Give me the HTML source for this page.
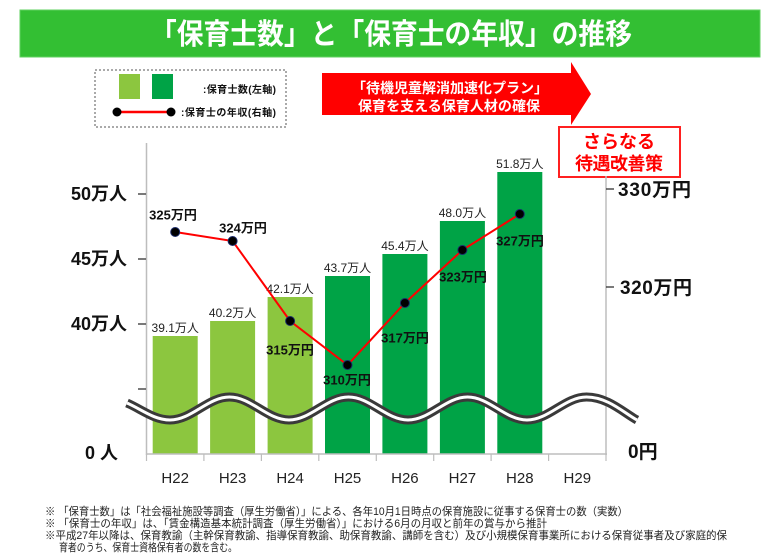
<!DOCTYPE html>
<html><head><meta charset="utf-8">
<style>
html,body{margin:0;padding:0;background:#fff;}
svg{display:block;}
text{font-family:"Liberation Sans","Noto Sans CJK JP",sans-serif;}
</style></head>
<body>
<svg width="780" height="560" viewBox="0 0 780 560" xmlns="http://www.w3.org/2000/svg">
<!-- Title -->
<rect x="20" y="10" width="740" height="47" fill="#33bf33" stroke="#5fd05f" stroke-width="1"/>
<text x="391" y="44" font-size="29" font-weight="bold" fill="#fff" text-anchor="middle" textLength="482" lengthAdjust="spacingAndGlyphs">「保育士数」と「保育士の年収」の推移</text>

<!-- Legend -->
<rect x="95" y="70" width="191" height="57" fill="none" stroke="#555" stroke-width="1" stroke-dasharray="2,2"/>
<rect x="119" y="74" width="21" height="25" fill="#8cc63f"/>
<rect x="152" y="74" width="21" height="25" fill="#00a346"/>
<text x="203" y="93" font-size="10" font-weight="bold" fill="#111" textLength="73">:保育士数(左軸)</text>
<line x1="117" y1="112" x2="171" y2="112" stroke="#ff0000" stroke-width="2.5"/>
<circle cx="117" cy="112" r="4.5" fill="#000"/>
<circle cx="171" cy="112" r="4.5" fill="#000"/>
<text x="181" y="116" font-size="10" font-weight="bold" fill="#111" textLength="95">:保育士の年収(右軸)</text>

<!-- Red arrow -->
<polygon points="322,73 571,73 571,62 591,94 571,125 571,115 322,115" fill="#ff0000"/>
<text x="450" y="93" font-size="14" font-weight="bold" fill="#fff" text-anchor="middle" textLength="196">「待機児童解消加速化プラン」</text>
<text x="449" y="111" font-size="14" font-weight="bold" fill="#fff" text-anchor="middle" textLength="182">保育を支える保育人材の確保</text>

<!-- Red box -->
<rect x="559" y="127" width="121" height="50" fill="#fff" stroke="#ff2020" stroke-width="2"/>
<text x="619" y="148" font-size="18" font-weight="bold" fill="#ff0000" text-anchor="middle">さらなる</text>
<text x="619" y="170" font-size="18" font-weight="bold" fill="#ff0000" text-anchor="middle" textLength="88">待遇改善策</text>

<!-- Bars -->
<g>
<rect x="152.7" y="336" width="45" height="118" fill="#8cc63f"/>
<rect x="210.1" y="321" width="45" height="133" fill="#8cc63f"/>
<rect x="267.6" y="297" width="45" height="157" fill="#8cc63f"/>
<rect x="325.0" y="276" width="45" height="178" fill="#00a346"/>
<rect x="382.4" y="254" width="45" height="200" fill="#00a346"/>
<rect x="439.9" y="221" width="45" height="233" fill="#00a346"/>
<rect x="497.3" y="172" width="45" height="282" fill="#00a346"/>
</g>

<!-- Axes -->
<line x1="146.5" y1="143" x2="146.5" y2="455" stroke="#bdbdbd" stroke-width="1.5"/>
<line x1="606" y1="176" x2="606" y2="455" stroke="#bdbdbd" stroke-width="1.5"/>
<line x1="146" y1="454" x2="607" y2="454" stroke="#bdbdbd" stroke-width="1.5"/>
<g stroke="#bdbdbd" stroke-width="1.2">
<line x1="146.5" y1="454" x2="146.5" y2="461"/>
<line x1="203.9" y1="454" x2="203.9" y2="461"/>
<line x1="261.4" y1="454" x2="261.4" y2="461"/>
<line x1="318.8" y1="454" x2="318.8" y2="461"/>
<line x1="376.3" y1="454" x2="376.3" y2="461"/>
<line x1="433.7" y1="454" x2="433.7" y2="461"/>
<line x1="491.1" y1="454" x2="491.1" y2="461"/>
<line x1="548.6" y1="454" x2="548.6" y2="461"/>
<line x1="606" y1="454" x2="606" y2="461"/>
</g>
<g stroke="#333" stroke-width="1.3">
<line x1="138" y1="194" x2="146" y2="194"/>
<line x1="138" y1="259" x2="146" y2="259"/>
<line x1="138" y1="324" x2="146" y2="324"/>
<line x1="138" y1="389" x2="146" y2="389"/>
<line x1="606" y1="189" x2="614" y2="189"/>
<line x1="606" y1="287" x2="614" y2="287"/>
</g>

<!-- Left labels -->
<g font-size="18" font-weight="bold" fill="#111" text-anchor="end">
<text x="127" y="200">50万人</text>
<text x="127" y="265">45万人</text>
<text x="127" y="330">40万人</text>
</g>
<text x="85" y="459" font-size="18" font-weight="bold" fill="#111">0 人</text>
<!-- Right labels -->
<g font-size="19" font-weight="bold" fill="#111">
<text x="618" y="196" textLength="73">330万円</text>
<text x="620" y="294" textLength="72">320万円</text>
<text x="628" y="458">0円</text>
</g>

<!-- Category labels -->
<g font-size="15" fill="#222" text-anchor="middle">
<text x="175.2" y="483">H22</text>
<text x="232.6" y="483">H23</text>
<text x="290.1" y="483">H24</text>
<text x="347.5" y="483">H25</text>
<text x="404.9" y="483">H26</text>
<text x="462.4" y="483">H27</text>
<text x="519.8" y="483">H28</text>
<text x="577.3" y="483">H29</text>
</g>

<!-- Bar value labels -->
<g font-size="12" fill="#222" text-anchor="middle">
<text x="175.2" y="332">39.1万人</text>
<text x="232.6" y="317">40.2万人</text>
<text x="290.1" y="293">42.1万人</text>
<text x="347.5" y="272">43.7万人</text>
<text x="404.9" y="250">45.4万人</text>
<text x="462.4" y="217">48.0万人</text>
<text x="519.8" y="168">51.8万人</text>
</g>

<!-- Wave break -->
<path d="M127,403 C141,409 154,420 170,420 C191.7,420 207.8,397 229.5,397 S267.3,420 289,420 S326.8,397 348.5,397 S386.3,420 408,420 S445.8,397 467.5,397 S505.3,420 527,420 S564.8,397 586.5,397 C608,397 624,413 637,420" fill="none" stroke="#3a3a3a" stroke-width="9"/>
<path d="M127,403 C141,409 154,420 170,420 C191.7,420 207.8,397 229.5,397 S267.3,420 289,420 S326.8,397 348.5,397 S386.3,420 408,420 S445.8,397 467.5,397 S505.3,420 527,420 S564.8,397 586.5,397 C608,397 624,413 637,420" fill="none" stroke="#fff" stroke-width="3"/>

<!-- Salary line -->
<polyline points="175.2,232 232.6,241 290.1,321 347.5,365 404.9,303 462.4,250 519.8,214" fill="none" stroke="#ff0000" stroke-width="2"/>
<g fill="#000" stroke="#1a2a6a" stroke-width="1">
<circle cx="175.2" cy="232" r="4.5"/>
<circle cx="232.6" cy="241" r="4.5"/>
<circle cx="290.1" cy="321" r="4.5"/>
<circle cx="347.5" cy="365" r="4.5"/>
<circle cx="404.9" cy="303" r="4.5"/>
<circle cx="462.4" cy="250" r="4.5"/>
<circle cx="519.8" cy="214" r="4.5"/>
</g>
<g font-size="13" font-weight="bold" fill="#111" text-anchor="middle">
<text x="173" y="219.5">325万円</text>
<text x="243" y="232.5">324万円</text>
<text x="290" y="354.5">315万円</text>
<text x="347" y="384.5">310万円</text>
<text x="405" y="342.5">317万円</text>
<text x="463" y="281.5">323万円</text>
<text x="520" y="245.5">327万円</text>
</g>

<!-- Footnotes -->
<g font-size="11" fill="#222">
<text x="45" y="515" textLength="583" lengthAdjust="spacingAndGlyphs">※ 「保育士数」は「社会福祉施設等調査（厚生労働省）」による、各年10月1日時点の保育施設に従事する保育士の数（実数）</text>
<text x="45" y="527" textLength="502" lengthAdjust="spacingAndGlyphs">※ 「保育士の年収」は、「賃金構造基本統計調査（厚生労働省）」における6月の月収と前年の賞与から推計</text>
<text x="45" y="539" textLength="682" lengthAdjust="spacingAndGlyphs">※平成27年以降は、保育教諭（主幹保育教諭、指導保育教諭、助保育教諭、講師を含む）及び小規模保育事業所における保育従事者及び家庭的保</text>
<text x="59" y="551" textLength="178" lengthAdjust="spacingAndGlyphs">育者のうち、保育士資格保有者の数を含む。</text>
</g>
</svg>
</body></html>
